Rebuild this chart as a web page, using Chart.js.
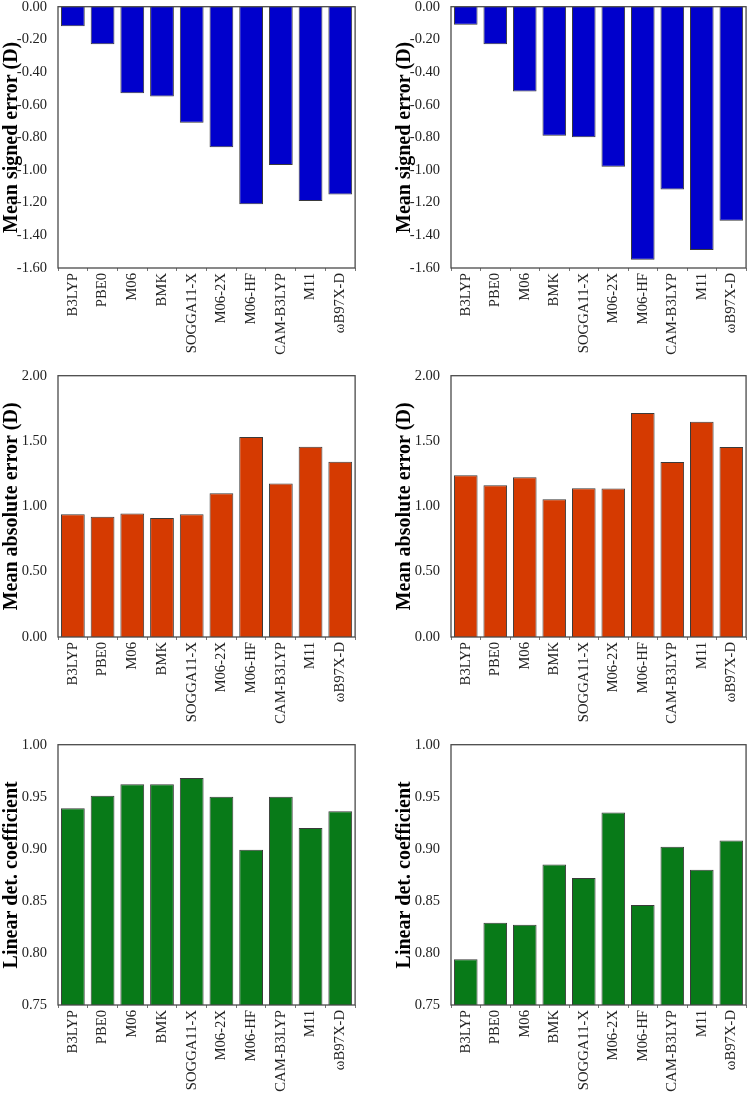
<!DOCTYPE html>
<html>
<head>
<meta charset="utf-8">
<script src="https://cdn.jsdelivr.net/npm/chart.js@4/dist/chart.umd.min.js"></script>
<style>
  html, body { margin: 0; padding: 0; background: #fff; overflow: hidden; }
  body { width: 751px; height: 1095px; position: relative; }
  .panel { position: absolute; }
</style>
</head>
<body>
<div class="panel" id="p0"><canvas id="c0"></canvas></div>
<div class="panel" id="p1"><canvas id="c1"></canvas></div>
<div class="panel" id="p2"><canvas id="c2"></canvas></div>
<div class="panel" id="p3"><canvas id="c3"></canvas></div>
<div class="panel" id="p4"><canvas id="c4"></canvas></div>
<div class="panel" id="p5"><canvas id="c5"></canvas></div>
<script>
"use strict";

// Functionals on the x axis (same for every panel)
const methods = ["B3LYP", "PBE0", "M06", "BMK", "SOGGA11-X", "M06-2X", "M06-HF", "CAM-B3LYP", "M11", "ωB97X-D"];

// Mean signed error (D)
const mseLeft  = [-0.12, -0.23, -0.53, -0.55, -0.71, -0.86, -1.21, -0.97, -1.19, -1.15];
const mseRight = [-0.11, -0.23, -0.52, -0.79, -0.80, -0.98, -1.55, -1.12, -1.49, -1.31];

// Mean absolute error (D)
const maeLeft  = [0.94, 0.92, 0.945, 0.91, 0.94, 1.10, 1.53, 1.175, 1.456, 1.342];
const maeRight = [1.238, 1.161, 1.222, 1.055, 1.138, 1.136, 1.715, 1.339, 1.647, 1.454];

// Linear determination coefficient
const r2Left  = [0.939, 0.951, 0.962, 0.962, 0.968, 0.950, 0.899, 0.950, 0.920, 0.936];
const r2Right = [0.794, 0.829, 0.827, 0.885, 0.872, 0.935, 0.846, 0.902, 0.880, 0.908];

const BLUE = "#0000cc";
const RED = "#d53a01";
const GREEN = "#087a18";
const FONT = "'Liberation Serif', 'Times New Roman', serif";

// Draws the grey frame round each plot area
const frame = {
  id: "frame",
  afterDraw(chart) {
    const { ctx, chartArea: a } = chart;
    ctx.save();
    ctx.strokeStyle = "#4a4a4a";
    ctx.lineWidth = 1.3;
    ctx.strokeRect(a.left, a.top, a.right - a.left, a.bottom - a.top);
    ctx.restore();
  },
};

// One entry per panel: which data, axis range, where it sits on the page
const panels = [
  { data: mseLeft,  color: BLUE,  title: "Mean signed error (D)",   min: -1.6, max: 0,   step: 0.2,  col: 0, row: 0 },
  { data: mseRight, color: BLUE,  title: "Mean signed error (D)",   min: -1.6, max: 0,   step: 0.2,  col: 1, row: 0 },
  { data: maeLeft,  color: RED,   title: "Mean absolute error (D)", min: 0,    max: 2,   step: 0.5,  col: 0, row: 1 },
  { data: maeRight, color: RED,   title: "Mean absolute error (D)", min: 0,    max: 2,   step: 0.5,  col: 1, row: 1 },
  { data: r2Left,   color: GREEN, title: "Linear det. coefficient", min: 0.75, max: 1.0, step: 0.05, col: 0, row: 2 },
  { data: r2Right,  color: GREEN, title: "Linear det. coefficient", min: 0.75, max: 1.0, step: 0.05, col: 1, row: 2 },
];

const colLeft = [0, 393];
const colWidth = [360, 358];
const colPadRight = [2, 1];
const rowPlotTop = [5, 374, 743];
const rowPlotH = [263, 263, 262];
const PAD_TOP = 10;
const X_AXIS_H = 100;
const Y_AXIS_W = 58;

panels.forEach((p, i) => {
  const box = document.getElementById("p" + i);
  const h = PAD_TOP + rowPlotH[p.row] + X_AXIS_H;
  box.style.left = colLeft[p.col] + "px";
  box.style.top = (rowPlotTop[p.row] - PAD_TOP) + "px";
  box.style.width = colWidth[p.col] + "px";
  box.style.height = h + "px";

  new Chart(document.getElementById("c" + i), {
    type: "bar",
    data: {
      labels: methods,
      datasets: [{
        data: p.data,
        backgroundColor: p.color,
        borderColor: "#3a3a3a",
        borderWidth: 1,
        barPercentage: 0.8,
        categoryPercentage: 1,
      }],
    },
    options: {
      responsive: true,
      maintainAspectRatio: false,
      animation: false,
      layout: { padding: { top: PAD_TOP, right: colPadRight[p.col], bottom: 0, left: 0 } },
      plugins: { legend: { display: false }, tooltip: { enabled: false } },
      scales: {
        x: {
          grid: { display: true, drawOnChartArea: false, tickLength: 3, color: "#777", offset: true },
          border: { display: false },
          ticks: {
            autoSkip: false,
            minRotation: 90,
            maxRotation: 90,
            padding: 2,
            color: "#222",
            font: { family: FONT, size: 14.7 },
          },
          afterFit(axis) { axis.height = X_AXIS_H; },
        },
        y: {
          min: p.min,
          max: p.max,
          grid: { display: false },
          border: { display: false },
          ticks: {
            stepSize: p.step,
            padding: 3,
            color: "#222",
            font: { family: FONT, size: 14.5 },
            callback: (v) => Number(v).toFixed(2),
          },
          title: {
            display: true,
            text: p.title,
            color: "#000",
            padding: 0,
            font: { family: FONT, size: 20, weight: "bold" },
          },
          afterFit(axis) { axis.width = Y_AXIS_W; },
        },
      },
    },
    plugins: [frame],
  });
});
</script>
</body>
</html>
